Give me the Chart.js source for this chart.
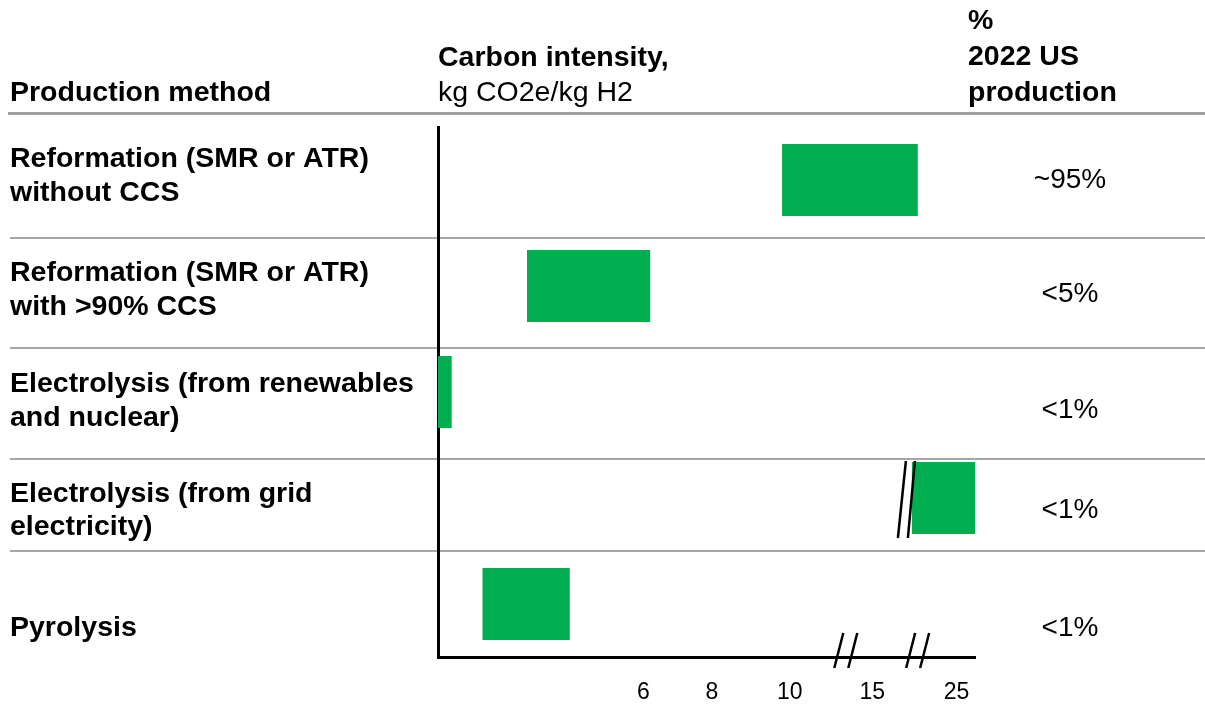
<!DOCTYPE html>
<html lang="en">
<head>
<meta charset="UTF-8">
<title>Hydrogen production carbon intensity</title>
<script src="https://cdn.jsdelivr.net/npm/chart.js"></script>
<style>
    html, body { margin: 0; padding: 0; background: #ffffff; }
    #wrap { width: 1205px; height: 704px; position: relative; }
</style>
</head>
<body>
<div id="wrap"><canvas id="chart" width="1205" height="704"></canvas></div>
<script>
// data
const methods = [
    ['Reformation (SMR or ATR)', 'without CCS'],
    ['Reformation (SMR or ATR)', 'with >90% CCS'],
    ['Electrolysis (from renewables', 'and nuclear)'],
    ['Electrolysis (from grid', 'electricity)'],
    ['Pyrolysis']
];
const intensityLow = [9.8, 2.6, 0, 19.7, 1.3];     // kg CO2e/kg H2
const intensityHigh = [20.4, 6.2, 0.4, 27.4, 3.85];
const usShare = ['~95%', '<5%', '<1%', '<1%', '<1%'];
const tickValues = [6, 8, 10, 15, 25];

// broken axis: value -> position on the drawn axis
const knotValues = [0, 6, 8, 10, 15, 25];
const knotPos = [0, 6, 8, 10.28, 12.69, 15.15];
function toAxis(v) {
    let i = 1;
    while (i < knotValues.length - 1 && v > knotValues[i]) i++;
    const v0 = knotValues[i - 1], v1 = knotValues[i];
    const p0 = knotPos[i - 1], p1 = knotPos[i];
    return p0 + (v - v0) * (p1 - p0) / (v1 - v0);
}

const GREEN = '#00AE50';
const FONT = "'Liberation Sans', Arial, sans-serif";

// text, separators and axis breaks around the bars
const tablePlugin = {
    id: 'table',
    beforeDraw(chart) {
        const ctx = chart.ctx;
        ctx.save();
        ctx.fillStyle = '#fff';
        ctx.fillRect(0, 0, chart.width, chart.height);
        // header rule
        ctx.strokeStyle = '#a0a0a0';
        ctx.lineWidth = 3;
        ctx.beginPath();
        ctx.moveTo(8, 113.5);
        ctx.lineTo(1205, 113.5);
        ctx.stroke();
        // row separators
        ctx.lineWidth = 2;
        ctx.strokeStyle = '#a6a6a6';
        [238, 348, 459, 551].forEach(y => {
            ctx.beginPath();
            ctx.moveTo(10, y);
            ctx.lineTo(1205, y);
            ctx.stroke();
        });
        ctx.restore();
    },
    afterDraw(chart) {
        const ctx = chart.ctx;
        const xs = chart.scales.x;
        ctx.save();
        ctx.fillStyle = '#000';
        ctx.textBaseline = 'alphabetic';

        // headers
        ctx.textAlign = 'left';
        ctx.font = 'bold 28.5px ' + FONT;
        ctx.fillText('Production method', 10, 101);
        ctx.fillText('Carbon intensity,', 438, 66);
        ctx.fillText('%', 968, 29);
        ctx.fillText('2022 US', 968, 65);
        ctx.fillText('production', 968, 101);
        ctx.font = '28.5px ' + FONT;
        ctx.fillText('kg CO2e/kg H2', 438, 101);

        // row labels
        const baselines = [[167, 201], [281, 315], [392, 426], [502, 535], [636]];
        ctx.font = 'bold 28.5px ' + FONT;
        methods.forEach((lines, i) => {
            lines.forEach((t, j) => ctx.fillText(t, 10, baselines[i][j]));
        });

        // share column
        const shareBase = [188, 302, 418, 518, 636];
        ctx.font = '28px ' + FONT;
        ctx.textAlign = 'center';
        usShare.forEach((t, i) => ctx.fillText(t, 1070, shareBase[i]));

        // axis breaks
        ctx.strokeStyle = '#000';
        ctx.lineWidth = 2.5;
        const slash = (x0, y0, x1, y1) => {
            ctx.beginPath();
            ctx.moveTo(x0, y0);
            ctx.lineTo(x1, y1);
            ctx.stroke();
        };
        const axisY = xs.top;
        [11.9, 14.0].forEach(p => {
            const x = xs.getPixelForValue(p);
            slash(x - 11, axisY + 11, x - 2, axisY - 24);
            slash(x + 3, axisY + 11, x + 12, axisY - 24);
        });
        // break on the grid-electricity bar
        const bar = chart.getDatasetMeta(0).data[3];
        const bx = bar.base;
        slash(bx - 14, bar.y + 40, bx - 6, bar.y - 37);
        slash(bx - 4, bar.y + 40, bx + 3, bar.y - 37);
        ctx.restore();
    }
};

new Chart(document.getElementById('chart'), {
    type: 'bar',
    data: {
        labels: methods.map(m => m.join(' ')),
        datasets: [{
            data: intensityLow.map((lo, i) => [toAxis(lo), toAxis(intensityHigh[i])]),
            backgroundColor: GREEN,
            borderWidth: 0,
            categoryPercentage: 1,
            barPercentage: 0.68
        }]
    },
    options: {
        indexAxis: 'y',
        responsive: false,
        animation: false,
        layout: { padding: { left: 438, right: 230, top: 127, bottom: 0 } },
        plugins: { legend: { display: false }, tooltip: { enabled: false } },
        scales: {
            x: {
                type: 'linear',
                min: 0,
                max: 15.69,
                grid: { display: false, drawTicks: false },
                border: { color: '#000', width: 3 },
                afterBuildTicks: scale => {
                    scale.ticks = tickValues.map(v => ({ value: toAxis(v) }));
                },
                afterFit: scale => { scale.height = 47; },
                ticks: {
                    autoSkip: false,
                    maxRotation: 0,
                    padding: 22,
                    color: '#000',
                    font: { family: FONT, size: 23 },
                    callback: (val, i) => tickValues[i]
                }
            },
            y: {
                grid: { display: false, drawTicks: false },
                border: { color: '#000', width: 3 },
                ticks: { display: false }
            }
        }
    },
    plugins: [tablePlugin]
});
</script>
</body>
</html>
